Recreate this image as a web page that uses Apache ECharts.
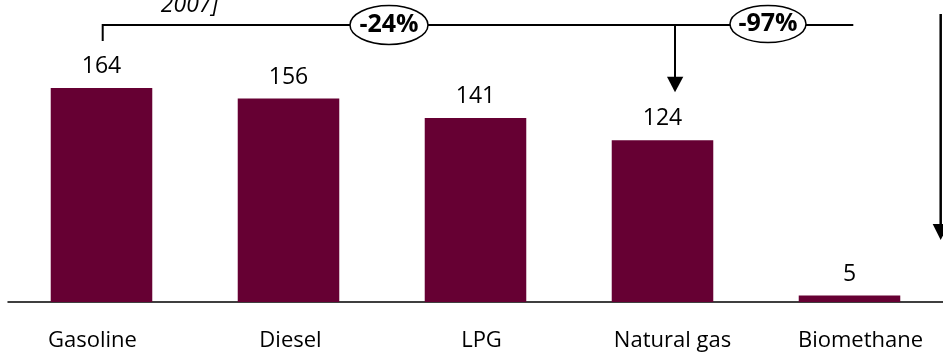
<!DOCTYPE html>
<html>
<head>
<meta charset="utf-8">
<script src="https://cdn.jsdelivr.net/npm/echarts@6/dist/echarts.min.js"></script>
<style>
html,body{margin:0;padding:0;background:#fff;}
#chart{width:943px;height:353px;}
</style>
</head>
<body>
<div id="chart"></div>
<script>
var categories = ['Gasoline', 'Diesel', 'LPG', 'Natural gas', 'Biomethane'];
var emissions = [164, 156, 141, 124, 5];
var labelShift = [-9, 2, 6, 10, 11];

var FONT = '"Open Sans", "Liberation Sans", sans-serif';
var chart = echarts.init(document.getElementById('chart'), null, {renderer: 'canvas'});

var rich = {};
labelShift.forEach(function (d, i) {
  rich['c' + i] = {
    fontFamily: FONT, fontSize: 22, color: '#000',
    padding: d >= 0 ? [0, 0, 0, 2 * d] : [0, -2 * d, 0, 0]
  };
});

var lineStyle = {stroke: '#000', lineWidth: 2};

chart.setOption({
  animation: false,
  backgroundColor: '#fff',
  grid: {left: 8, right: -4, top: 15, bottom: 51, containLabel: false},
  xAxis: {
    type: 'category',
    data: categories,
    axisLine: {show: true, lineStyle: {color: '#000', width: 1.5}},
    axisTick: {show: false},
    axisLabel: {
      margin: 28,
      interval: 0,
      formatter: function (v, i) { return '{c' + i + '|' + v + '}'; },
      rich: rich
    }
  },
  yAxis: {
    type: 'value', min: 0, max: 220,
    show: false,
    splitLine: {show: false}
  },
  series: [{
    type: 'bar',
    data: emissions,
    barWidth: '54.3%',
    itemStyle: {color: '#660033'},
    label: {
      show: true, position: 'top', distance: 10,
      fontFamily: FONT, fontSize: 23, color: '#000'
    }
  }],
  graphic: [
    {type: 'text', z: 10, style: {text: '2007]', x: 189.5, y: 5, align: 'center', verticalAlign: 'middle',
      fontFamily: FONT, fontSize: 23, fontStyle: 'italic', fill: '#000'}},
    {type: 'line', z: 10, shape: {x1: 102.7, y1: 25, x2: 853.3, y2: 25}, style: lineStyle},
    {type: 'line', z: 10, shape: {x1: 102.7, y1: 24, x2: 102.7, y2: 41}, style: lineStyle},
    {type: 'line', z: 10, shape: {x1: 675, y1: 25, x2: 675, y2: 78}, style: lineStyle},
    {type: 'polygon', z: 10, shape: {points: [[667, 76.7], [683.3, 76.7], [675, 92.3]]}, style: {fill: '#000'}},
    {type: 'line', z: 10, shape: {x1: 940.7, y1: 14, x2: 940.7, y2: 226}, style: {stroke: '#000', lineWidth: 2.5}},
    {type: 'polygon', z: 10, shape: {points: [[932.7, 224], [948.7, 224], [940.7, 240]]}, style: {fill: '#000'}},
    {type: 'ellipse', z: 11, shape: {cx: 389, cy: 25, rx: 39, ry: 19.5}, style: {fill: '#fff', stroke: '#000', lineWidth: 1.5}},
    {type: 'text', z: 12, style: {text: '-24%', x: 389, y: 25, align: 'center', verticalAlign: 'middle',
      fontFamily: FONT, fontSize: 25, fontWeight: 'bold', fill: '#000'}},
    {type: 'ellipse', z: 11, shape: {cx: 768, cy: 24, rx: 38, ry: 18.5}, style: {fill: '#fff', stroke: '#000', lineWidth: 1.5}},
    {type: 'text', z: 12, style: {text: '-97%', x: 768, y: 24, align: 'center', verticalAlign: 'middle',
      fontFamily: FONT, fontSize: 25, fontWeight: 'bold', fill: '#000'}}
  ]
});
</script>
</body>
</html>
